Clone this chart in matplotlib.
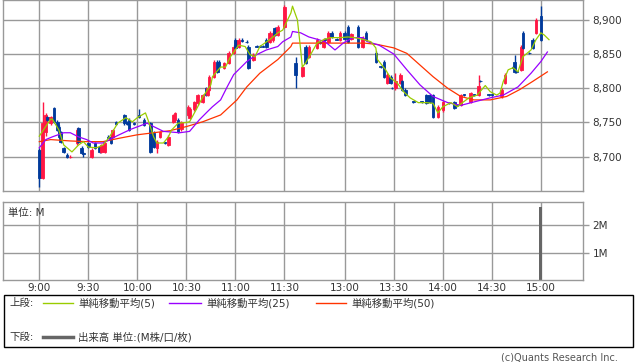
"""
Intraday candlestick chart with simple moving averages (5 / 25 / 50)
and a volume panel.  Saves out.png (638 x 362 px).
"""

import matplotlib.pyplot as plt
from matplotlib.patches import Rectangle
from matplotlib.lines import Line2D

# ==========================================================
# Plot configuration
# ==========================================================

plt.rcParams["font.family"] = ["DejaVu Sans", "Noto Sans CJK JP"]

FIG_SIZE = (6.38, 3.62)
DPI = 100

UP_COLOR = "#FF1744"
DOWN_COLOR = "#003A9B"
MA5_COLOR = "#99CC00"
MA25_COLOR = "#9900FF"
MA50_COLOR = "#FF3300"
VOL_COLOR = "#666666"
GRID_COLOR = "#999999"
TEXT_COLOR = "#333333"

# ==========================================================
# Input data
# ==========================================================

# x axis = session minutes from 9:00 (morning 0..150 = 9:00..11:30,
# afternoon starts 12:30 at 157, so 13:00 = 187 ... 15:00 = 307)
TIME_POS = [0, 30, 60, 90, 120, 150, 187, 217, 247, 277, 307]
TIME_LABELS = ["9:00", "9:30", "10:00", "10:30", "11:00", "11:30",
               "13:00", "13:30", "14:00", "14:30", "15:00"]

PRICE_TICKS = [8700, 8750, 8800, 8850, 8900]

# ---------- candles ----------
CDL_MIN = [0, 2, 4, 5, 7, 9, 11, 12, 13, 15, 17, 19, 23, 24, 26, 27, 30, 32,
           34, 37, 38, 40, 42, 44, 45, 47, 52, 54, 55, 58, 61, 64, 68, 70,
           72, 74, 77, 79, 82, 83, 85, 87, 91, 92, 95, 97, 100, 102, 103,
           104, 107, 109, 110, 113, 116, 119, 120, 122, 124, 127, 128, 131,
           133, 135, 137, 139, 141, 143, 144, 146, 150,
           157, 161, 163, 165, 170, 172, 174, 175, 177, 179, 182, 184, 187,
           189, 191, 195, 198, 200, 206, 209, 211, 213, 215, 216, 218, 221,
           222, 224, 229, 234, 237, 239, 241, 244, 247, 251, 254, 256, 258,
           260, 264, 266, 269, 270, 275, 277, 283, 285, 290, 291, 292, 295,
           296, 300, 302, 304, 307]

CDL_OPEN = [8710, 8669, 8736, 8758, 8749, 8771, 8751, 8744, 8736, 8712, 8703,
            8700, 8720, 8742, 8713, 8706, 8720, 8700, 8720, 8714, 8707, 8707,
            8729, 8729, 8729, 8750, 8761, 8750, 8754, 8749, 8761, 8754, 8749,
            8735, 8713, 8729, 8721, 8717, 8751, 8754, 8754, 8740, 8761, 8757,
            8769, 8778, 8780, 8800, 8790, 8798, 8817, 8839, 8839, 8830, 8837,
            8852, 8871, 8861, 8871, 8868, 8861, 8842, 8862, 8862, 8862, 8871,
            8868, 8870, 8888, 8878, 8890,
            8837, 8818, 8861, 8846, 8859, 8867, 8861, 8872, 8868, 8881, 8872,
            8871, 8881, 8890, 8872, 8890, 8861, 8881, 8852, 8832, 8839, 8808,
            8817, 8801, 8800, 8808, 8810, 8798, 8781, 8781, 8790, 8790, 8790,
            8758, 8768, 8779, 8780, 8776, 8776, 8791, 8780, 8791, 8790, 8811,
            8791, 8791, 8788, 8808, 8831, 8839, 8825, 8827, 8881, 8852, 8871,
            8881, 8905]

CDL_HIGH = [8712, 8780, 8764, 8760, 8760, 8773, 8753, 8746, 8738, 8714, 8705,
            8702, 8742, 8744, 8715, 8707, 8722, 8712, 8722, 8716, 8719, 8722,
            8731, 8731, 8741, 8752, 8763, 8752, 8756, 8751, 8770, 8756, 8751,
            8737, 8724, 8738, 8722, 8731, 8763, 8766, 8756, 8752, 8775, 8772,
            8782, 8792, 8792, 8802, 8802, 8819, 8841, 8841, 8841, 8839, 8854,
            8863, 8873, 8873, 8873, 8870, 8863, 8851, 8863, 8863, 8863, 8873,
            8883, 8883, 8890, 8892, 8921,
            8846, 8833, 8863, 8863, 8873, 8868, 8873, 8873, 8883, 8883, 8873,
            8883, 8883, 8892, 8881, 8892, 8876, 8883, 8854, 8833, 8841, 8822,
            8819, 8802, 8822, 8822, 8812, 8800, 8782, 8782, 8792, 8792, 8792,
            8775, 8782, 8780, 8782, 8777, 8792, 8792, 8795, 8792, 8820, 8812,
            8792, 8792, 8800, 8822, 8833, 8848, 8826, 8863, 8883, 8853, 8873,
            8902, 8920]

CDL_LOW = [8655, 8667, 8730, 8752, 8747, 8749, 8737, 8727, 8720, 8705, 8698,
           8698, 8717, 8720, 8704, 8700, 8712, 8698, 8711, 8706, 8705, 8705,
           8727, 8718, 8727, 8747, 8747, 8747, 8737, 8747, 8756, 8745, 8705,
           8712, 8705, 8727, 8718, 8715, 8749, 8752, 8734, 8738, 8759, 8755,
           8767, 8776, 8778, 8788, 8788, 8796, 8815, 8822, 8830, 8828, 8835,
           8850, 8857, 8859, 8868, 8866, 8828, 8840, 8860, 8860, 8860, 8859,
           8866, 8868, 8876, 8876, 8888,
           8800, 8816, 8835, 8844, 8857, 8865, 8859, 8870, 8866, 8873, 8870,
           8869, 8870, 8866, 8870, 8859, 8859, 8869, 8837, 8830, 8815, 8806,
           8806, 8799, 8798, 8806, 8796, 8788, 8779, 8779, 8777, 8779, 8756,
           8756, 8766, 8777, 8769, 8774, 8774, 8789, 8778, 8789, 8788, 8809,
           8789, 8789, 8786, 8806, 8829, 8822, 8823, 8825, 8857, 8850, 8857,
           8879, 8869]

CDL_CLOSE = [8669, 8749, 8761, 8754, 8758, 8751, 8739, 8729, 8722, 8707, 8700,
             8700, 8739, 8722, 8706, 8704, 8714, 8710, 8713, 8707, 8717, 8720,
             8728, 8720, 8739, 8748, 8749, 8748, 8739, 8748, 8758, 8747, 8707,
             8714, 8722, 8736, 8720, 8729, 8761, 8764, 8736, 8750, 8773, 8770,
             8780, 8790, 8790, 8790, 8800, 8817, 8839, 8824, 8832, 8837, 8852,
             8861, 8859, 8871, 8869, 8867, 8830, 8849, 8861, 8861, 8861, 8861,
             8881, 8881, 8878, 8890, 8919,
             8820, 8831, 8837, 8861, 8871, 8866, 8871, 8871, 8881, 8875, 8871,
             8881, 8872, 8868, 8879, 8861, 8874, 8871, 8839, 8831, 8817, 8820,
             8808, 8800, 8810, 8820, 8798, 8790, 8780, 8780, 8779, 8780, 8758,
             8773, 8780, 8778, 8771, 8775, 8790, 8790, 8793, 8790, 8804, 8810,
             8790, 8790, 8798, 8820, 8830, 8824, 8824, 8861, 8859, 8851, 8859,
             8900, 8871]

# ---------- simple moving averages ----------
MA5_MIN = [0, 7, 8, 12, 15, 20, 24, 27, 30, 35, 39, 43, 48, 53, 57, 60, 65,
           67, 70, 72, 76, 79, 81, 85, 90, 92, 97, 100, 105, 106, 111, 114,
           117, 122, 126, 129, 132, 135, 141, 146, 149, 154, 155, 158, 160,
           161, 163, 166, 170, 174, 178, 184, 189, 193, 199, 203, 206, 207,
           212, 215, 219, 223, 227, 232, 237, 241, 244, 247, 252, 256, 259,
           263, 268, 273, 276, 280, 282, 284, 287, 290, 293, 296, 301, 304,
           307, 309, 312]
MA5 = [8730, 8755, 8755, 8739, 8717, 8707, 8717, 8722, 8714, 8713, 8717,
       8729, 8749, 8757, 8751, 8757, 8764, 8751, 8729, 8720, 8720, 8729,
       8739, 8749, 8750, 8751, 8773, 8787, 8805, 8817, 8831, 8831, 8846,
       8863, 8861, 8849, 8846, 8861, 8871, 8881, 8885, 8910, 8920, 8900,
       8856, 8831, 8837, 8849, 8866, 8871, 8874, 8874, 8875, 8874, 8871,
       8868, 8859, 8842, 8827, 8815, 8808, 8795, 8786, 8779, 8779, 8778,
       8764, 8773, 8779, 8773, 8779, 8786, 8790, 8804, 8795, 8790, 8793,
       8810, 8827, 8830, 8824, 8846, 8856, 8871, 8881, 8878, 8871]

MA25_MIN = [0, 4, 8, 15, 19, 24, 29, 33, 39, 48, 56, 66, 70, 76, 81, 86, 92,
            98, 103, 106, 111, 115, 119, 127, 133, 139, 146, 149, 154, 155,
            160, 165, 171, 175, 181, 186, 192, 198, 201, 208, 217, 225, 233,
            241, 250, 258, 266, 276, 284, 293, 301, 307, 311]
MA25 = [8713, 8725, 8729, 8735, 8735, 8729, 8725, 8720, 8720, 8731, 8740,
        8749, 8744, 8737, 8736, 8735, 8737, 8754, 8766, 8773, 8783, 8802,
        8820, 8839, 8849, 8856, 8861, 8868, 8875, 8883, 8881, 8875, 8871,
        8868, 8856, 8866, 8874, 8874, 8868, 8863, 8850, 8827, 8805, 8788,
        8779, 8775, 8780, 8786, 8790, 8802, 8822, 8839, 8853]

MA50_MIN = [0, 7, 19, 29, 39, 49, 60, 70, 80, 90, 100, 111, 121, 127, 135,
            146, 154, 155, 199, 207, 217, 225, 233, 241, 250, 258, 266, 276,
            286, 294, 302, 311]
MA50 = [8722, 8725, 8723, 8722, 8722, 8727, 8732, 8735, 8738, 8744, 8751,
        8761, 8783, 8802, 8822, 8842, 8861, 8866, 8866, 8864, 8859, 8851,
        8834, 8817, 8800, 8788, 8783, 8783, 8788, 8798, 8810, 8824]

# ---------- volume (millions) ----------
VOL_MIN = [307]
VOL = [2.66]
VOL_TICKS = [1, 2]

# ==========================================================
# Figure generation
# ==========================================================


def style_axes(ax):
    for side in ax.spines.values():
        side.set_color(GRID_COLOR)
        side.set_linewidth(1.0)
    ax.grid(True, color=GRID_COLOR, linewidth=1.0)
    ax.set_axisbelow(True)
    ax.yaxis.tick_right()
    ax.tick_params(axis="y", length=4, width=1, color=GRID_COLOR,
                   labelsize=7.5, labelcolor=TEXT_COLOR, pad=3)
    ax.set_xticks(TIME_POS)
    ax.set_xlim(-22.2, 332.8)


def main():
    fig = plt.figure(figsize=FIG_SIZE, dpi=DPI)

    # ------------------------------------------------------
    # Price panel
    # ------------------------------------------------------
    ax = fig.add_axes([3 / 638, 1 - 190.7 / 362, 580 / 638, 190.7 / 362])
    style_axes(ax)
    ax.set_ylim(8650.3, 8929)
    ax.set_yticks(PRICE_TICKS)
    ax.set_yticklabels([f"{v:,}" for v in PRICE_TICKS])
    ax.tick_params(axis="x", length=0, labelbottom=False)

    for m, o, h, lo, c in zip(CDL_MIN, CDL_OPEN, CDL_HIGH, CDL_LOW, CDL_CLOSE):
        col = UP_COLOR if c >= o else DOWN_COLOR
        ax.vlines(m, lo, h, color=col, linewidth=1.0, zorder=2)
        ax.bar(m, c - o, bottom=o, width=1.6, color=col, edgecolor=col,
               linewidth=0.6, zorder=2)

    ax.plot(MA50_MIN, MA50, color=MA50_COLOR, linewidth=0.9, zorder=3)
    ax.plot(MA25_MIN, MA25, color=MA25_COLOR, linewidth=0.9, zorder=3)
    ax.plot(MA5_MIN, MA5, color=MA5_COLOR, linewidth=0.9, zorder=4)

    # ------------------------------------------------------
    # Volume panel
    # ------------------------------------------------------
    axv = fig.add_axes([3 / 638, 1 - 280 / 362, 580 / 638, 78 / 362])
    style_axes(axv)
    axv.set_ylim(0, 2.86)
    axv.set_yticks(VOL_TICKS)
    axv.set_yticklabels([f"{v}M" for v in VOL_TICKS])
    axv.set_xticklabels(TIME_LABELS)
    axv.tick_params(axis="x", length=0, labelsize=7.5,
                    labelcolor=TEXT_COLOR, pad=2)
    axv.bar(VOL_MIN, VOL, width=1.8, color=VOL_COLOR, zorder=2)
    axv.text(0.008, 0.93, "単位: M", transform=axv.transAxes, fontsize=7.5,
             color=TEXT_COLOR, ha="left", va="top")

    # ------------------------------------------------------
    # Legend box
    # ------------------------------------------------------
    fig.patches.append(Rectangle((4 / 638, 1 - 346.5 / 362), 629 / 638,
                                 52 / 362, transform=fig.transFigure,
                                 fill=False, edgecolor="black", linewidth=1))

    def fy(y):
        return 1 - y / 362

    def fx(x):
        return x / 638

    row1 = fy(303)
    row2 = fy(337)
    fig.text(fx(9), row1, "上段:", fontsize=7.5, color=TEXT_COLOR, va="center")
    items = [(43, 73, 78, MA5_COLOR, "単純移動平均(5)"),
             (169, 201, 206, MA25_COLOR, "単純移動平均(25)"),
             (316, 346, 351, MA50_COLOR, "単純移動平均(50)")]
    for x0, x1, xt, col, label in items:
        fig.lines.append(Line2D([fx(x0), fx(x1)], [row1, row1], color=col,
                                linewidth=1, transform=fig.transFigure))
        fig.text(fx(xt), row1, label, fontsize=7.5, color=TEXT_COLOR,
                 va="center")

    fig.text(fx(9), row2, "下段:", fontsize=7.5, color=TEXT_COLOR, va="center")
    fig.lines.append(Line2D([fx(43), fx(73)], [row2, row2], color=VOL_COLOR,
                            linewidth=2.5, transform=fig.transFigure))
    fig.text(fx(78), row2, "出来高 単位:(M株/口/枚)", fontsize=7.5,
             color=TEXT_COLOR, va="center")

    fig.text(fx(618), fy(357), "(c)Quants Research Inc.", fontsize=7,
             color="#555555", ha="right", va="center")

    fig.savefig("out.png", dpi=DPI)


if __name__ == "__main__":
    main()
